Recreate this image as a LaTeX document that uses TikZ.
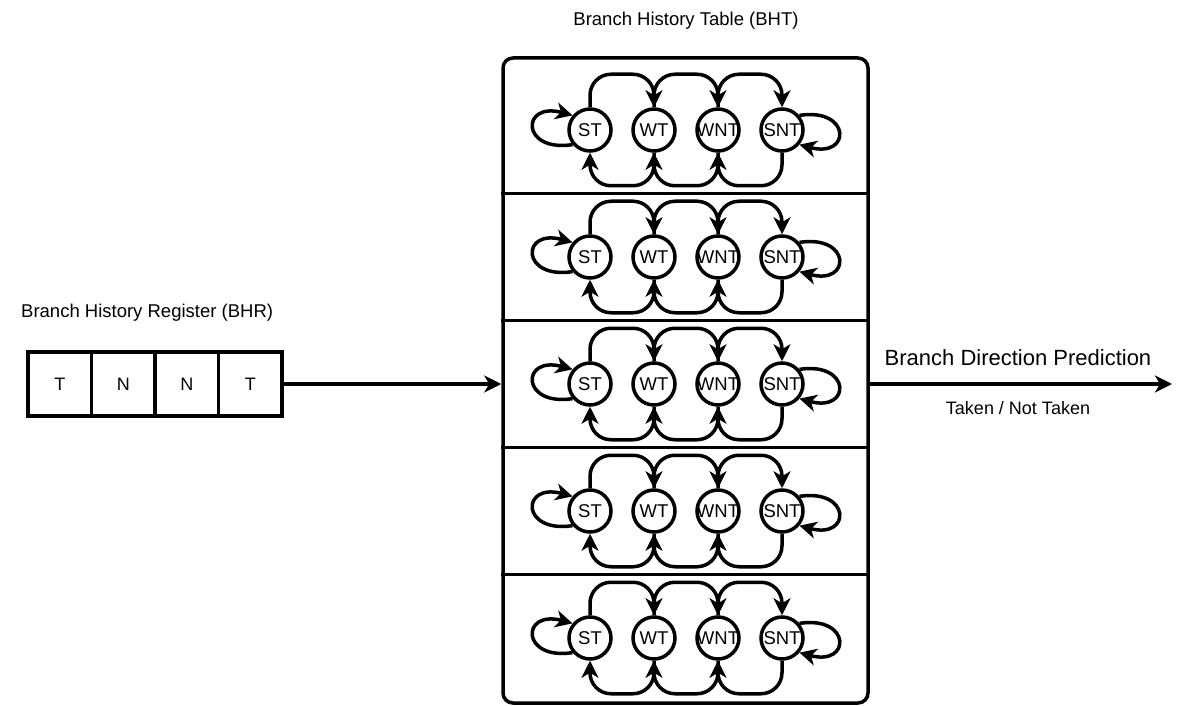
\documentclass[tikz,border=0pt]{standalone}
\usepackage{fontspec}
\setmainfont{Liberation Sans}
\usetikzlibrary{arrows.meta,calc}

\tikzset{
  ln/.style={line width=3.5pt},
  arr/.style={ln, -{Stealth[length=17pt,width=17pt,inset=5pt]}},
  state/.style={ln, draw, circle, minimum size=42pt, inner sep=0pt,
    font=\fontsize{18.5}{20}\selectfont},
  cell/.style={ln, draw, rectangle, minimum width=63.5pt, minimum height=64pt,
    inner sep=0pt, font=\fontsize{18}{20}\selectfont},
  lbl/.style={inner sep=0pt, font=\fontsize{18.5}{22}\selectfont},
}

\begin{document}
\begin{tikzpicture}[x=1pt,y=-1pt]
\useasboundingbox (0,0) rectangle (1179,706);

% titles
\node[lbl] (bhttitle) at (686,21) {Branch History Table (BHT)};
\node[lbl, anchor=west] (bhrtitle) at (21,313) {Branch History Register (BHR)};

% history register cells
\node[cell] (c1) at (59.75,384) {T};
\node[cell] (c2) at (123.25,384) {N};
\node[cell] (c3) at (186.75,384) {N};
\node[cell] (c4) at (250.25,384) {T};

% table frame and row separators
\node[ln, draw, rectangle, rounded corners=10pt, minimum width=365pt,
  minimum height=645pt, inner sep=0pt] (bht) at (685.5,380.5) {};
\foreach \yy in {193.5,320.5,447.5,574.5}
  \draw[ln] (bht.west |- 0,\yy) -- (bht.east |- 0,\yy);

% one 2-bit counter state machine per row
\foreach \r in {1,...,5} {
  \pgfmathsetmacro{\yc}{130+127*(\r-1)}
  \node[state] (st\r)  at (590,\yc) {\makebox[0pt]{ST}};
  \node[state] (wt\r)  at (654,\yc) {\makebox[0pt]{WT}};
  \node[state] (wnt\r) at (718,\yc) {\makebox[0pt]{WNT}};
  \node[state] (snt\r) at (782,\yc) {\makebox[0pt]{SNT}};
  % towards not taken (top arcs)
  \draw[arr, rounded corners=21pt] (st\r.north) -- ++(0,-33) -| (wt\r.north);
  \draw[arr, rounded corners=21pt] (wt\r.north) -- ++(0,-33) -| (wnt\r.north);
  \draw[arr, rounded corners=21pt] (wnt\r.north) -- ++(0,-33) -| (snt\r.north);
  % towards taken (bottom arcs)
  \draw[arr, rounded corners=21pt] (wt\r.south) -- ++(0,33) -| (st\r.south);
  \draw[arr, rounded corners=21pt] (wnt\r.south) -- ++(0,33) -| (wt\r.south);
  \draw[arr, rounded corners=21pt] (snt\r.south) -- ++(0,33) -| (wnt\r.south);
  % saturating self loops
  \draw[arr] (st\r.220) .. controls +(-52,8) and +(-52,-14) .. (st\r.140);
  \draw[arr] (snt\r.40) .. controls +(52,-8) and +(52,14) .. (snt\r.-40);
}

% history into table, prediction out
\draw[arr] (c4.east) -- (c4.east -| bht.west);
\coordinate (out) at (1172,384);
\draw[arr] (bht.east |- out) -- (out);
\node[inner sep=0pt, font=\fontsize{22}{26}\selectfont] (pred) at (1018,358)
  {Branch Direction Prediction};
\node[inner sep=0pt, font=\fontsize{18}{22}\selectfont] (tnt) at (1018,408)
  {Taken / Not Taken};
\end{tikzpicture}
\end{document}
